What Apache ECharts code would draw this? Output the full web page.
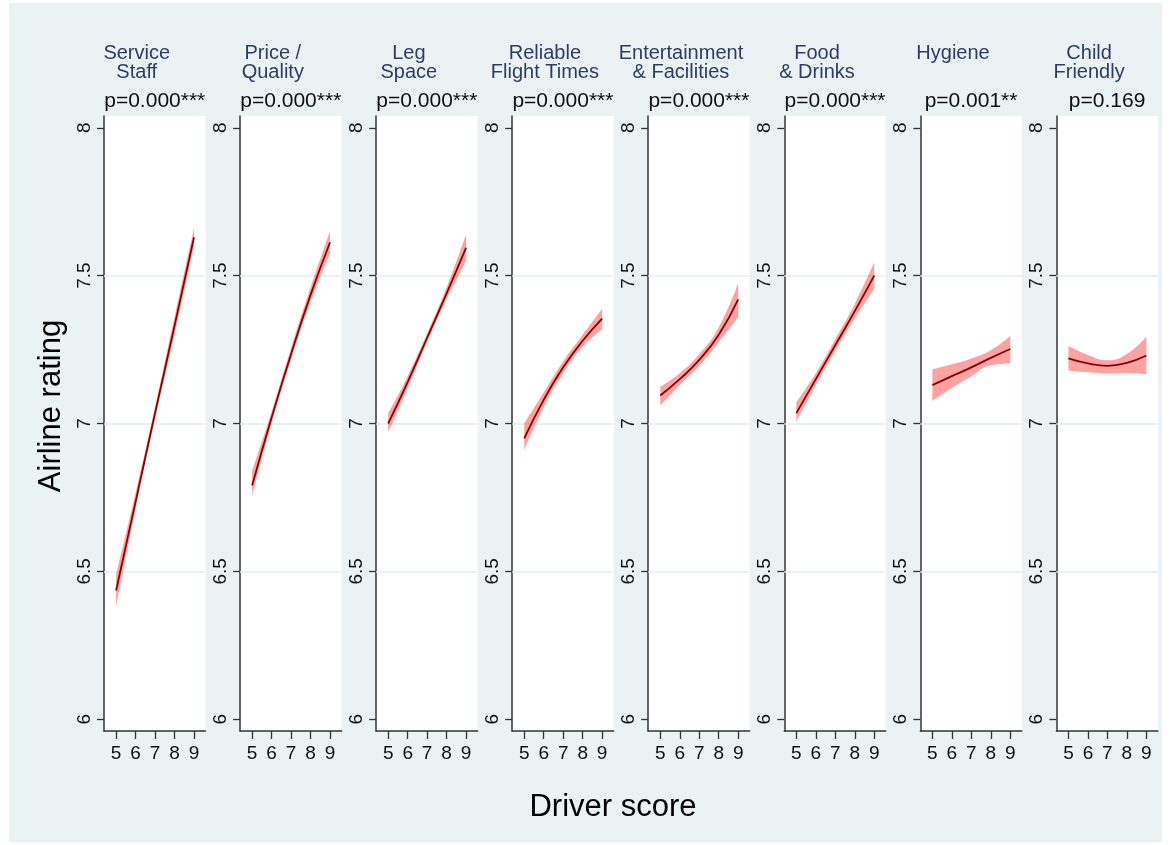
<!DOCTYPE html>
<html>
<head>
<meta charset="utf-8">
<script src="https://cdn.jsdelivr.net/npm/echarts@6/dist/echarts.min.js"></script>
<style>
html,body{margin:0;padding:0;background:#fff;}
#chart{width:1171px;height:845px;}
</style>
</head>
<body>
<div id="chart"></div>
<script>
// ---- data ----
const panelTitles = ['Service\nStaff', 'Price /\nQuality', 'Leg\nSpace', 'Reliable\nFlight Times',
  'Entertainment\n& Facilities', 'Food\n& Drinks', 'Hygiene', 'Child\nFriendly'];
const pLabels = ['p=0.000***', 'p=0.000***', 'p=0.000***', 'p=0.000***',
  'p=0.000***', 'p=0.000***', 'p=0.001**', 'p=0.169'];
const driverScores = [5, 6, 7, 8, 9];
const xTicks = [5, 6, 7, 8, 9];
const yTicks = [6, 6.5, 7, 7.5, 8];
const gridValues = [6.5, 7, 7.5];

// predicted airline rating (fit) per panel, at driver scores 5..9
const fitValues = [
  [6.435, 6.735, 7.035, 7.33, 7.63],
  [6.79, 7.02, 7.235, 7.435, 7.613],
  [7.00, 7.14, 7.29, 7.44, 7.595],
  [6.95, 7.08, 7.19, 7.28, 7.355],
  [7.095, 7.15, 7.215, 7.30, 7.42],
  [7.035, 7.15, 7.265, 7.38, 7.50],
  [7.13, 7.16, 7.19, 7.222, 7.252],
  [7.22, 7.203, 7.195, 7.205, 7.23]
];
const lowerCI = [
  [6.38, 6.71, 7.015, 7.30, 7.60],
  [6.755, 7.00, 7.215, 7.41, 7.575],
  [6.97, 7.12, 7.275, 7.42, 7.55],
  [6.91, 7.055, 7.17, 7.26, 7.318],
  [7.06, 7.13, 7.195, 7.275, 7.36],
  [7.005, 7.13, 7.245, 7.355, 7.455],
  [7.076, 7.12, 7.16, 7.197, 7.203],
  [7.178, 7.173, 7.169, 7.170, 7.167]
];
const upperCI = [
  [6.49, 6.765, 7.055, 7.36, 7.66],
  [6.84, 7.04, 7.255, 7.46, 7.65],
  [7.035, 7.16, 7.305, 7.46, 7.64],
  [7.00, 7.105, 7.21, 7.30, 7.388],
  [7.124, 7.17, 7.235, 7.325, 7.475],
  [7.072, 7.17, 7.285, 7.405, 7.545],
  [7.183, 7.20, 7.22, 7.248, 7.297],
  [7.262, 7.232, 7.214, 7.235, 7.293]
];

// ---- layout / style ----
const FONT = "'Liberation Sans', Arial, Helvetica, sans-serif";
const P_LEFT0 = 104, P_STEP = 136.05, P_W = 101.5, P_TOP = 116, P_H = 615;
const AXIS_COLOR = '#333333';
const BAND_COLOR = 'rgba(250,60,60,0.48)';
const LINE_COLOR = '#8b0000';

const grids = [], xAxes = [], yAxes = [], series = [], titles = [];

panelTitles.forEach((t, i) => {
  const left = P_LEFT0 + i * P_STEP;
  grids.push({left: left, top: P_TOP, width: P_W, height: P_H, show: true,
    backgroundColor: '#ffffff', borderWidth: 0, containLabel: false});
  xAxes.push({
    gridIndex: i, type: 'value', min: 4.38, max: 9.59,
    axisLine: {show: true, onZero: false, lineStyle: {color: AXIS_COLOR, width: 1.5}},
    axisTick: {show: true, length: 8, customValues: xTicks, lineStyle: {color: AXIS_COLOR, width: 1.3}},
    axisLabel: {show: true, customValues: xTicks, fontSize: 19, color: '#111', margin: 13, fontFamily: FONT},
    splitLine: {show: false}
  });
  yAxes.push({
    gridIndex: i, type: 'value', min: 5.96, max: 8.04,
    axisLine: {show: true, onZero: false, lineStyle: {color: AXIS_COLOR, width: 1.5}},
    axisTick: {show: true, length: 7, customValues: yTicks, lineStyle: {color: AXIS_COLOR, width: 1.3}},
    axisLabel: {show: true, customValues: yTicks, rotate: 90, fontSize: 19, color: '#111', margin: 10, fontFamily: FONT},
    splitLine: {show: false}
  });
  // lower CI bound (invisible base of stacked band); data as [value, x] so stacking acts on y
  series.push({
    type: 'line', xAxisIndex: i, yAxisIndex: i, stack: 'band' + i, silent: true,
    encode: {x: 1, y: 0},
    data: driverScores.map((x, j) => [lowerCI[i][j], x]),
    smooth: true, symbol: 'none', lineStyle: {opacity: 0}, z: 2,
    markLine: {
      silent: true, symbol: 'none', z: 1, animation: false,
      label: {show: false},
      lineStyle: {color: '#e6eef1', width: 1.5, type: 'solid'},
      data: gridValues.map(v => ({yAxis: v}))
    }
  });
  // CI band (upper - lower stacked on lower)
  series.push({
    type: 'line', xAxisIndex: i, yAxisIndex: i, stack: 'band' + i, silent: true,
    encode: {x: 1, y: 0},
    data: driverScores.map((x, j) => [upperCI[i][j] - lowerCI[i][j], x]),
    smooth: true, symbol: 'none', lineStyle: {opacity: 0},
    areaStyle: {color: BAND_COLOR, opacity: 1}, z: 2
  });
  // fitted line
  series.push({
    type: 'line', xAxisIndex: i, yAxisIndex: i,
    data: driverScores.map((x, j) => [x, fitValues[i][j]]),
    smooth: true, symbol: 'none', z: 3,
    lineStyle: {color: LINE_COLOR, width: 1.8}
  });
  const cx = left + P_W / 2;
  titles.push({
    text: t, left: cx - 18, top: 43.5, textAlign: 'center', padding: 0,
    textStyle: {fontSize: 20, lineHeight: 19.5, fontWeight: 'normal', color: '#2c3d63', fontFamily: FONT}
  });
  titles.push({
    text: pLabels[i], left: cx, top: 90.5, textAlign: 'center', padding: 0,
    textStyle: {fontSize: 21, lineHeight: 21, fontWeight: 'normal', color: '#111', fontFamily: FONT}
  });
});

const option = {
  animation: false,
  backgroundColor: '#ffffff',
  title: titles,
  grid: grids,
  xAxis: xAxes,
  yAxis: yAxes,
  series: series,
  graphic: [
    {type: 'rect', z: -10, silent: true, shape: {x: 9, y: 3, width: 1153, height: 839}, style: {fill: '#eaf2f3'}},
    {type: 'text', x: 51, y: 406, rotation: Math.PI / 2, silent: true,
      style: {text: 'Airline rating', fontSize: 31, fontFamily: FONT, fill: '#000', align: 'center', verticalAlign: 'middle'}},
    {type: 'text', x: 613, y: 807.5, silent: true,
      style: {text: 'Driver score', fontSize: 31, fontFamily: FONT, fill: '#000', align: 'center', verticalAlign: 'middle'}}
  ]
};

const chart = echarts.init(document.getElementById('chart'), null, {renderer: 'canvas'});
chart.setOption(option);
</script>
</body>
</html>
